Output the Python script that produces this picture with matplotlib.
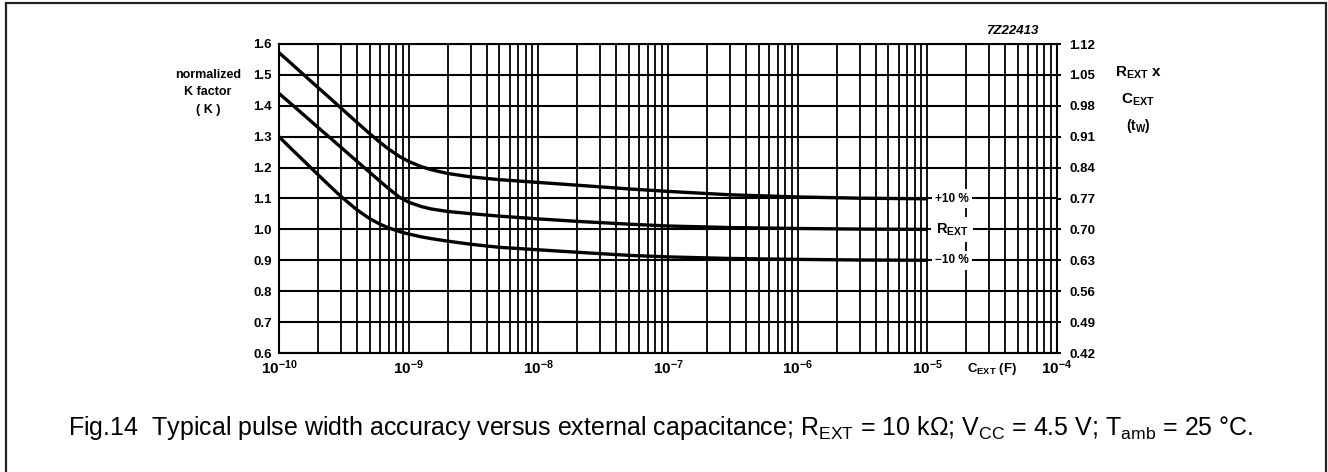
import matplotlib
matplotlib.use("Agg")
import matplotlib.pyplot as plt
from matplotlib.patches import Rectangle

# ---- data ----
cap = [1e-10, 1.25e-10, 1.5e-10, 2e-10, 2.5e-10, 3e-10, 4e-10, 5e-10, 6e-10, 7e-10,
       8.5e-10, 1e-9, 1.25e-9, 1.5e-9, 2e-9, 3e-9, 5e-9, 1e-8, 2e-8, 5e-8, 1e-7,
       3e-7, 1e-6, 3e-6, 1e-5]
k_plus = [1.572, 1.536, 1.506, 1.459, 1.423, 1.393, 1.346, 1.310, 1.282, 1.260,
          1.236, 1.220, 1.203, 1.193, 1.181, 1.170, 1.161, 1.152, 1.143, 1.131, 1.123,
          1.112, 1.105, 1.101, 1.099]
k_nom = [1.440, 1.405, 1.376, 1.330, 1.295, 1.266, 1.220, 1.185, 1.156, 1.132,
         1.104, 1.088, 1.074, 1.066, 1.058, 1.051, 1.043, 1.034, 1.026, 1.017, 1.011,
         1.006, 1.003, 1.001, 1.000]
k_minus = [1.300, 1.260, 1.228, 1.177, 1.138, 1.107, 1.063, 1.035, 1.017, 1.005,
           0.993, 0.985, 0.976, 0.970, 0.962, 0.952, 0.942, 0.934, 0.926, 0.916, 0.911,
           0.906, 0.903, 0.901, 0.900]

curve_labels = ["+10 %", "R$_{\\mathregular{EXT}}$", "\u221210 %"]
curve_label_sizes = [8.5, 10.5, 8.5]
curve_label_y = [1.1, 1.0, 0.9]

left_ticks = [0.6, 0.7, 0.8, 0.9, 1.0, 1.1, 1.2, 1.3, 1.4, 1.5, 1.6]
right_ticks = [0.42, 0.49, 0.56, 0.63, 0.70, 0.77, 0.84, 0.91, 0.98, 1.05, 1.12]
x_major = [1e-10, 1e-9, 1e-8, 1e-7, 1e-6, 1e-5, 1e-4]
x_major_labels = ["$10^{\u221210}$", "$10^{\u22129}$", "$10^{\u22128}$", "$10^{\u22127}$",
                  "$10^{\u22126}$", "$10^{\u22125}$", "$10^{\u22124}$"]

caption = ("Fig.14  Typical pulse width accuracy versus external capacitance; "
           "R$_{\\mathregular{EXT}}$ = 10 k\u03a9; V$_{\\mathregular{CC}}$ = 4.5 V; "
           "T$_{\\mathregular{amb}}$ = 25 \u00b0C.")

# ---- styling ----
plt.rcParams["font.family"] = ["Liberation Sans", "DejaVu Sans"]
plt.rcParams["mathtext.fontset"] = "custom"
plt.rcParams["mathtext.rm"] = "Liberation Sans"
plt.rcParams["mathtext.it"] = "Liberation Sans:italic"
plt.rcParams["mathtext.bf"] = "Liberation Sans:bold"
plt.rcParams["mathtext.default"] = "regular"

W, H = 1328, 472
fig = plt.figure(figsize=(W / 100, H / 100), dpi=100)
fig.patch.set_facecolor("white")

ax_l, ax_r, ax_t, ax_b = 279, 1057, 44, 353
ax = fig.add_axes([ax_l / W, 1 - ax_b / H, (ax_r - ax_l) / W, (ax_b - ax_t) / H])
ax.set_xscale("log")
ax.set_xlim(1e-10, 1e-4)
ax.set_ylim(0.6, 1.6)

minor = []
for e in range(-10, -4):
    for m in range(2, 10):
        minor.append(m * 10.0 ** e)
ax.set_xticks(x_major)
ax.set_xticklabels(x_major_labels)
ax.set_xticks(minor, minor=True)
ax.set_xticklabels([], minor=True)
ax.set_yticks(left_ticks)
ax.set_yticklabels([f"{v:.1f}" for v in left_ticks])

ax.grid(True, which="both", axis="x", color="black", lw=1.3, zorder=1)
ax.grid(True, which="major", axis="y", color="black", lw=1.5, zorder=1)
ax.set_axisbelow(True)
for s in ax.spines.values():
    s.set_linewidth(1.5)
    s.set_color("black")

ax.tick_params(axis="both", which="both", length=0)
ax.tick_params(axis="y", pad=5, labelsize=9.5)
ax.tick_params(axis="x", pad=4, labelsize=11)
for lab in ax.get_yticklabels() + ax.get_xticklabels():
    lab.set_fontweight("bold")

lw_curve = 2.4
for ks in (k_plus, k_nom, k_minus):
    ax.plot(cap, ks, color="black", lw=lw_curve, zorder=3,
            solid_capstyle="butt", solid_joinstyle="round")

for lab, yv, fs in zip(curve_labels, curve_label_y, curve_label_sizes):
    ax.text(1.55e-5, yv, lab, ha="center", va="center", fontsize=fs, fontweight="bold",
            zorder=5, bbox=dict(boxstyle="square,pad=0.3", fc="white", ec="none"))

ax2 = ax.twinx()
ax2.set_ylim(0.42, 1.12)
ax2.set_yticks(right_ticks)
ax2.set_yticklabels([f"{v:.2f}" for v in right_ticks])
ax2.tick_params(axis="y", length=3, width=1.5, direction="out", pad=6, labelsize=9.5)
for lab in ax2.get_yticklabels():
    lab.set_fontweight("bold")
for s in ax2.spines.values():
    s.set_visible(False)

# axis annotations
for txt, yy in (("normalized", 75), ("K factor", 92), ("( K )", 110)):
    fig.text(208 / W, 1 - yy / H, txt, ha="center", va="center", fontsize=9, fontweight="bold")

fig.text(1138 / W, 1 - 73 / H, "R$_{\\mathregular{EXT}}$ x", ha="center", va="center", fontsize=11, fontweight="bold")
fig.text(1138 / W, 1 - 100 / H, "C$_{\\mathregular{EXT}}$", ha="center", va="center", fontsize=11, fontweight="bold")
fig.text(1138 / W, 1 - 126 / H, "(t$_{\\mathregular{W}}$)", ha="center", va="center", fontsize=10, fontweight="bold")

fig.text(992 / W, 1 - 369 / H, "C$_{\\mathregular{EXT}}$ (F)", ha="center", va="center", fontsize=9.5, fontweight="bold")
fig.text(1012 / W, 1 - 31 / H, "7Z22413", ha="center", va="center", fontsize=9.5,
         fontweight="bold", fontstyle="italic")

fig.text(68 / W, 1 - 428 / H, caption, ha="left", va="center", fontsize=18)

fig.patches.append(Rectangle((6 / W, -0.02), (1326 - 6) / W, 1.02 - 3 / H,
                             transform=fig.transFigure, fill=False, lw=1.6,
                             edgecolor="#222222", zorder=10))

fig.savefig("out.png", dpi=100, facecolor="white")
